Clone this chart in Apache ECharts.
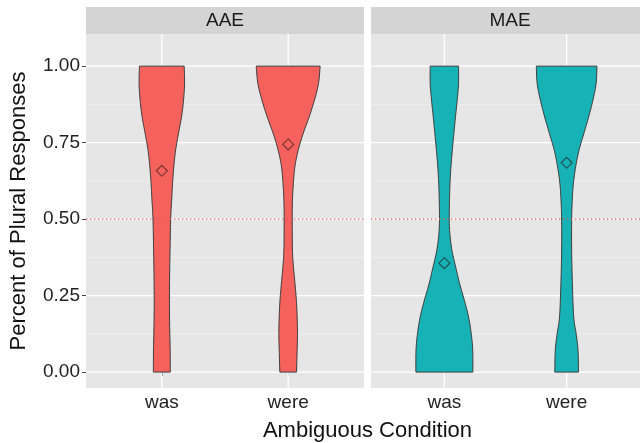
<!DOCTYPE html>
<html>
<head>
<meta charset="utf-8">
<script src="https://cdn.jsdelivr.net/npm/echarts@6/dist/echarts.min.js"></script>
<style>html,body{margin:0;padding:0;background:#fff}#c{width:640px;height:443px}</style>
</head>
<body>
<div id="c"></div>
<script>
// ---- data ----
const categories = ['was', 'were'];
const panels = ['AAE', 'MAE'];
const yTicks = [0, 0.25, 0.5, 0.75, 1];
const yMinor = [0.125, 0.375, 0.625, 0.875];
const refLine = [0.5];

// violin outlines: y levels and half-widths (in category units)
const aaeWasY    = [1.0, 0.943, 0.889, 0.834, 0.78, 0.725, 0.671, 0.616, 0.562, 0.5, 0.398, 0.289, 0.18, 0.071, 0];
const aaeWasHalf = [0.177, 0.180, 0.172, 0.156, 0.132, 0.109, 0.095, 0.085, 0.078, 0.070, 0.065, 0.061, 0.061, 0.066, 0.067];
const aaeWereY    = [1.0, 0.943, 0.889, 0.834, 0.78, 0.725, 0.671, 0.616, 0.562, 0.5, 0.398, 0.343, 0.289, 0.234, 0.18, 0.125, 0.071, 0];
const aaeWereHalf = [0.253, 0.240, 0.208, 0.166, 0.119, 0.079, 0.053, 0.041, 0.034, 0.032, 0.034, 0.042, 0.054, 0.065, 0.071, 0.074, 0.071, 0.066];
const maeWasY    = [1.0, 0.943, 0.889, 0.834, 0.78, 0.725, 0.671, 0.616, 0.562, 0.5, 0.452, 0.398, 0.343, 0.289, 0.234, 0.18, 0.125, 0.071, 0];
const maeWasHalf = [0.116, 0.116, 0.105, 0.091, 0.078, 0.065, 0.054, 0.046, 0.042, 0.040, 0.045, 0.062, 0.093, 0.125, 0.164, 0.198, 0.220, 0.232, 0.233];
const maeWereY    = [1.0, 0.943, 0.889, 0.834, 0.78, 0.725, 0.671, 0.616, 0.562, 0.5, 0.398, 0.289, 0.18, 0.125, 0.071, 0];
const maeWereHalf = [0.248, 0.241, 0.215, 0.180, 0.141, 0.101, 0.074, 0.055, 0.046, 0.041, 0.041, 0.047, 0.058, 0.078, 0.093, 0.097];

// means (diamonds)
const aaeMeans = [0.658, 0.744];
const maeMeans = [0.356, 0.684];

// ---- build ----
const violinSets = [
  [[aaeWasY, aaeWasHalf], [aaeWereY, aaeWereHalf]],
  [[maeWasY, maeWasHalf], [maeWereY, maeWereHalf]]
];
const meanSets = [aaeMeans, maeMeans];
const fills = ['#F5625D', '#17B2B6'];
const FONT = 'Liberation Sans, Arial, sans-serif';

function catmull(pts, steps) {
  const out = [];
  for (let i = 0; i < pts.length - 1; i++) {
    const p0 = pts[Math.max(0, i - 1)], p1 = pts[i], p2 = pts[i + 1], p3 = pts[Math.min(pts.length - 1, i + 2)];
    for (let s = 0; s < steps; s++) {
      const t = s / steps, t2 = t * t, t3 = t2 * t;
      const f = (a, b, c, d) => 0.5 * ((2 * b) + (-a + c) * t + (2 * a - 5 * b + 4 * c - d) * t2 + (-a + 3 * b - 3 * c + d) * t3);
      out.push([f(p0[0], p1[0], p2[0], p3[0]), f(p0[1], p1[1], p2[1], p3[1])]);
    }
  }
  out.push(pts[pts.length - 1]);
  return out;
}

const grids = [], xAxes = [], yAxes = [], series = [];
const gridLefts = [86, 371];
panels.forEach((p, g) => {
  grids.push({ left: gridLefts[g], top: 34, width: 278, height: 354, show: true, backgroundColor: '#E6E6E6', borderWidth: 0 });
  xAxes.push({
    type: 'value', gridIndex: g, min: 0.4, max: 2.6,
    axisLine: { show: false },
    axisTick: { show: true, customValues: [1, 2], length: 4, lineStyle: { color: '#444', width: 1 } },
    axisLabel: { customValues: [1, 2], formatter: v => categories[Math.round(v) - 1], fontSize: 19, color: '#222', fontFamily: FONT, margin: 5 },
    splitLine: { show: false }
  });
  yAxes.push({
    type: 'value', gridIndex: g, min: -0.052, max: 1.105,
    axisLine: { show: false },
    axisTick: { show: g === 0, customValues: yTicks, length: 4, lineStyle: { color: '#444', width: 1 } },
    axisLabel: { show: g === 0, customValues: yTicks, formatter: v => v.toFixed(2), fontSize: 19, color: '#222', fontFamily: FONT, margin: 6 },
    splitLine: { show: false },
    name: g === 0 ? 'Percent of Plural Responses' : '',
    nameLocation: 'middle', nameGap: 56,
    nameTextStyle: { fontSize: 22, color: '#111', fontFamily: FONT }
  });
  // minor gridlines
  series.push({
    type: 'custom', xAxisIndex: g, yAxisIndex: g, z: 1, silent: true,
    data: yMinor.map(v => [1.5, v]),
    renderItem: (params, api) => {
      const cs = params.coordSys; const y = api.coord([1.5, api.value(1)])[1];
      return { type: 'line', shape: { x1: cs.x, y1: y, x2: cs.x + cs.width, y2: y }, style: { stroke: '#F4F4F4', lineWidth: 0.7 } };
    }
  });
  // major gridlines (horizontal)
  series.push({
    type: 'custom', xAxisIndex: g, yAxisIndex: g, z: 1, silent: true,
    data: yTicks.map(v => [1.5, v]),
    renderItem: (params, api) => {
      const cs = params.coordSys; const y = api.coord([1.5, api.value(1)])[1];
      return { type: 'line', shape: { x1: cs.x, y1: y, x2: cs.x + cs.width, y2: y }, style: { stroke: '#FFFFFF', lineWidth: 1.3 } };
    }
  });
  // major gridlines (vertical)
  series.push({
    type: 'custom', xAxisIndex: g, yAxisIndex: g, z: 1, silent: true,
    data: [[1, 0.5], [2, 0.5]],
    renderItem: (params, api) => {
      const cs = params.coordSys; const x = api.coord([api.value(0), 0.5])[0];
      return { type: 'line', shape: { x1: x, y1: cs.y, x2: x, y2: cs.y + cs.height }, style: { stroke: '#FFFFFF', lineWidth: 1.3 } };
    }
  });
  // violins
  series.push({
    type: 'custom', xAxisIndex: g, yAxisIndex: g, z: 3, silent: true,
    data: [[1, 0.5], [2, 0.5]],
    renderItem: (params, api) => {
      const xc = api.value(0);
      const [ys, hs] = violinSets[g][params.dataIndex];
      const right = ys.map((y, i) => api.coord([xc + hs[i], y]));
      const left = ys.map((y, i) => api.coord([xc - hs[i], y]));
      const r = catmull(right, 10), l = catmull(left, 10).reverse();
      return { type: 'polygon', shape: { points: r.concat(l) }, style: { fill: fills[g], stroke: '#3A3A3A', lineWidth: 1 } };
    }
  });
  // means
  series.push({
    type: 'scatter', xAxisIndex: g, yAxisIndex: g, z: 4, silent: true,
    symbol: 'diamond', symbolSize: [11, 11],
    data: meanSets[g].map((m, i) => [i + 1, m]),
    itemStyle: { color: 'rgba(0,0,0,0)', borderColor: 'rgba(40,20,20,0.8)', borderWidth: 1.1 }
  });
  // reference dotted line
  series.push({
    type: 'custom', xAxisIndex: g, yAxisIndex: g, z: 5, silent: true,
    data: refLine.map(v => [1.5, v]),
    renderItem: (params, api) => {
      const cs = params.coordSys; const y = api.coord([1.5, api.value(1)])[1];
      return { type: 'line', shape: { x1: cs.x, y1: y, x2: cs.x + cs.width, y2: y }, style: { stroke: '#E5584F', lineWidth: 1.2, lineDash: [1.3, 2.7] } };
    }
  });
});

const graphic = [];
panels.forEach((p, g) => {
  graphic.push({ type: 'rect', left: gridLefts[g], top: 7, shape: { width: 278, height: 27 }, style: { fill: '#D4D4D4' }, silent: true });
  graphic.push({ type: 'text', x: gridLefts[g] + 139, y: 21, style: { text: p, fill: '#1A1A1A', font: '19px ' + FONT, textAlign: 'center', textVerticalAlign: 'middle' }, silent: true });
});
graphic.push({ type: 'text', x: 367.5, y: 431, style: { text: 'Ambiguous Condition', fill: '#111', font: '22px ' + FONT, textAlign: 'center', textVerticalAlign: 'middle' }, silent: true });

const chart = echarts.init(document.getElementById('c'), null, { renderer: 'canvas' });
chart.setOption({
  animation: false,
  backgroundColor: '#FFFFFF',
  grid: grids, xAxis: xAxes, yAxis: yAxes, series: series, graphic: graphic
});
</script>
</body>
</html>
